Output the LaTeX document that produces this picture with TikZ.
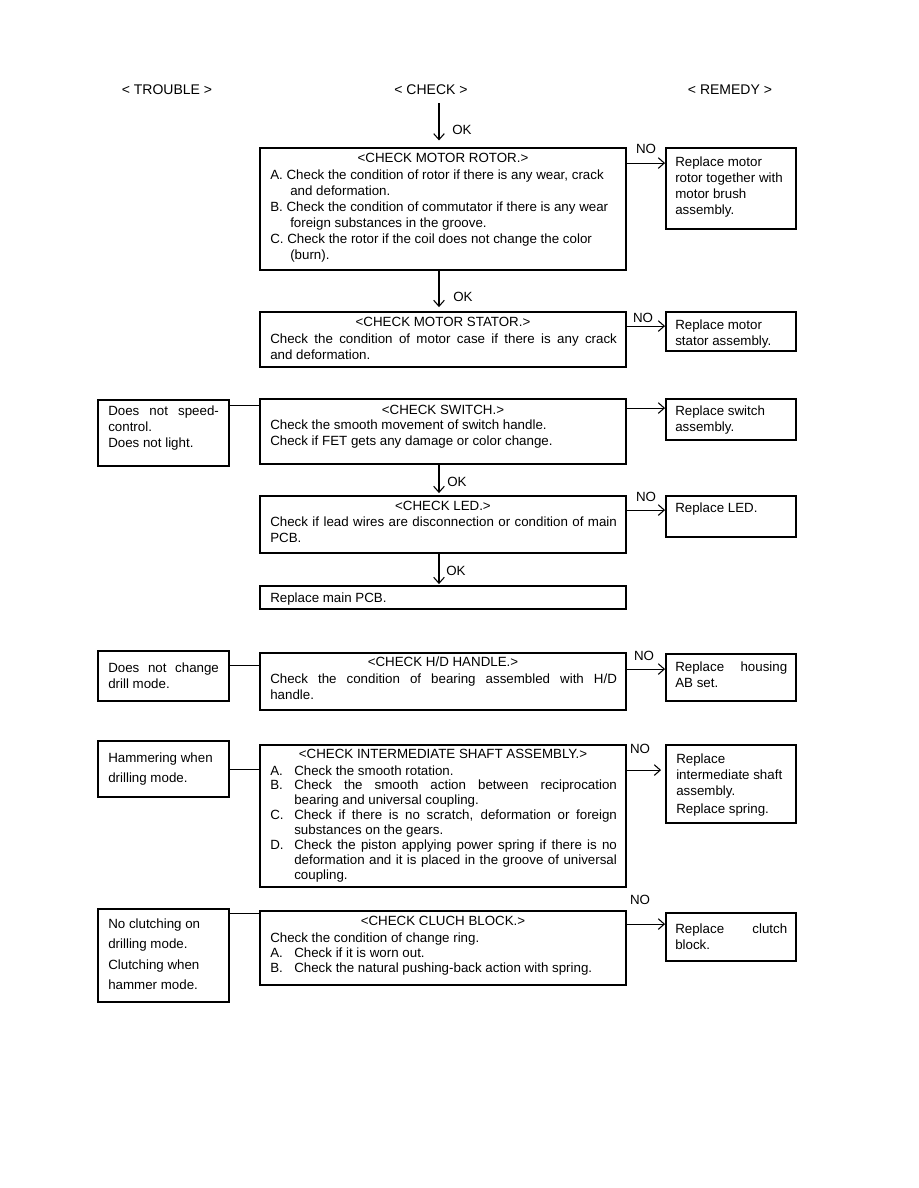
\documentclass[tikz,border=0pt]{standalone}
\usepackage{fontspec}
\setmainfont{Liberation Sans}
\usetikzlibrary{arrows.meta,fit}
\newcommand\jl[2]{\makebox[#1][s]{#2}}
\newcommand\tl[1]{\begin{tabular}[t]{@{}l@{}}#1\end{tabular}}
\begin{document}
\begin{tikzpicture}[x=0.75pt,y=-0.75pt,
  box/.style={draw, line width=1.4pt, inner sep=0pt},
  tbox/.style={draw, line width=1.7pt, inner sep=0pt},
  txt/.style={inner sep=0pt, anchor=base west, font=\fontsize{10}{12}\selectfont},
  ttl/.style={inner sep=0pt, anchor=base, font=\fontsize{10}{12}\selectfont},
  hdr/.style={inner sep=0pt, anchor=base, font=\fontsize{10.5}{12}\selectfont},
  lbl/.style={inner sep=0pt, font=\fontsize{10}{12}\selectfont},
  arr/.style={-{Straight Barb[length=4.5pt,width=8pt]}, line width=0.8pt},
  ln/.style={line width=0.8pt}]
\fill[white] (0,0) rectangle (918,1188);
\useasboundingbox (0,0) rectangle (918,1188);

% headers
\node[hdr] (h1) at (167,94) {< TROUBLE >};
\node[hdr] (h2) at (431,94) {< CHECK >};
\node[hdr] (h3) at (730,94) {< REMEDY >};

% ---------- motor rotor
\node[box, fit={(260,148) (626,270)}] (c1) {};
\node[ttl] (c1h) at (443,162) {<CHECK MOTOR ROTOR.>};
\node[txt] (c1t) at (270,179) {\tl{A. Check the condition of rotor if there is any wear, crack\\
\hspace*{15pt}and deformation.\\
B. Check the condition of commutator if there is any wear\\
\hspace*{15pt}foreign substances in the groove.\\
C. Check the rotor if the coil does not change the color\\
\hspace*{15pt}(burn).}};
\node[box, fit={(666,148) (796,229)}] (r1) {};
\node[txt] (r1t) at (675,166) {\tl{Replace motor\\rotor together with\\motor brush\\assembly.}};
\coordinate (top) at (439,103);
\draw[arr, shorten >=5pt] (top) -- (top |- c1.north);
\node[lbl, anchor=west] (ok1) at (452,130) {OK};
\draw[arr] ([yshift=-12pt]c1.north east) -- ([yshift=-12pt]c1.north east -| r1.west);
\node[lbl] (no1) at (646,149) {NO};

% ---------- motor stator
\node[box, fit={(260,312) (626,367)}] (c2) {};
\node[ttl] (c2h) at (443,326) {<CHECK MOTOR STATOR.>};
\node[txt] (c2t) at (270,343) {\tl{\jl{260pt}{Check the condition of motor case if there is any crack}\\and deformation.}};
\node[box, fit={(666,312) (796,351)}] (r2) {};
\node[txt] (r2t) at (675,329) {\tl{Replace motor\\stator assembly.}};
\draw[arr, shorten >=3pt] (top |- c1.south) -- (top |- c2.north);
\node[lbl, anchor=west] (ok2) at (453,297) {OK};
\draw[arr] ([yshift=-11.25pt]c2.north east) -- ([yshift=-11.25pt]c2.north east -| r2.west);
\node[lbl] (no2) at (643,318) {NO};

% ---------- switch
\node[tbox, fit={(98,400) (229,466)}] (t3) {};
\node[txt] (t3t) at (108,415) {\tl{\jl{83pt}{Does not speed-}\\control.\\Does not light.}};
\node[box, fit={(260,399) (626,464)}] (c3) {};
\node[ttl] (c3h) at (443,414) {<CHECK SWITCH.>};
\node[txt] (c3t) at (270,429) {\tl{Check the smooth movement of switch handle.\\Check if FET gets any damage or color change.}};
\node[box, fit={(666,399) (796,440)}] (r3) {};
\node[txt] (r3t) at (675,415) {\tl{Replace switch\\assembly.}};
\draw[ln] ([yshift=-5.25pt]t3.north east) -- ([yshift=-5.25pt]t3.north east -| c3.west);
\draw[arr] ([yshift=-7.5pt]c3.north east) -- ([yshift=-7.5pt]c3.north east -| r3.west);

% ---------- LED
\node[box, fit={(260,496) (626,553)}] (c4) {};
\node[ttl] (c4h) at (443,510) {<CHECK LED.>};
\node[txt] (c4t) at (270,526) {\tl{\jl{260pt}{Check if lead wires are disconnection or condition of main}\\PCB.}};
\node[box, fit={(666,496) (796,537)}] (r4) {};
\node[txt] (r4t) at (675,512) {Replace LED.};
\draw[arr, shorten >=1.5pt] (top |- c3.south) -- (top |- c4.north);
\node[lbl, anchor=west] (ok3) at (447,482) {OK};
\draw[arr] ([yshift=-11.25pt]c4.north east) -- ([yshift=-11.25pt]c4.north east -| r4.west);
\node[lbl] (no4) at (646,497) {NO};

\node[box, fit={(260,586) (626,609)}] (c5) {};
\node[txt] (c5t) at (270,602) {Replace main PCB.};
\draw[arr, shorten >=0.75pt] (top |- c4.south) -- (top |- c5.north);
\node[lbl, anchor=west] (ok4) at (446,571) {OK};

% ---------- H/D handle
\node[tbox, fit={(98,651) (229,701)}] (t6) {};
\node[txt] (t6t) at (108,672) {\tl{\jl{83pt}{Does not change}\\drill mode.}};
\node[box, fit={(260,653) (626,710)}] (c6) {};
\node[ttl] (c6h) at (443,666) {<CHECK H/D HANDLE.>};
\node[txt] (c6t) at (270,683) {\tl{\jl{260pt}{Check the condition of bearing assembled with H/D}\\handle.}};
\node[box, fit={(666,654) (796,701)}] (r6) {};
\node[txt] (r6t) at (675,671) {\tl{\jl{84pt}{Replace housing}\\AB set.}};
\draw[ln] ([yshift=-12pt]t6.north east) -- ([yshift=-12pt]t6.north east -| c6.west);
\draw[arr] ([yshift=-12.75pt]c6.north east) -- ([yshift=-12.75pt]c6.north east -| r6.west);
\node[lbl] (no6) at (644,656) {NO};

% ---------- intermediate shaft
\node[tbox, fit={(98,741) (229,797)}] (t7) {};
\node[txt, font=\fontsize{10}{15}\selectfont] (t7t) at (108,762) {\tl{Hammering when\\drilling mode.}};
\node[box, fit={(260,745) (626,887)}] (c7) {};
\node[ttl] (c7h) at (443,758) {<CHECK INTERMEDIATE SHAFT ASSEMBLY.>};
\node[txt, font=\fontsize{10}{11.2}\selectfont] (c7t) at (270,775) {\tl{\makebox[18pt][l]{A.}Check the smooth rotation.\\
\makebox[18pt][l]{B.}\jl{242pt}{Check the smooth action between reciprocation}\\
\hspace*{18pt}bearing and universal coupling.\\
\makebox[18pt][l]{C.}\jl{242pt}{Check if there is no scratch, deformation or foreign}\\
\hspace*{18pt}substances on the gears.\\
\makebox[18pt][l]{D.}\jl{242pt}{Check the piston applying power spring if there is no}\\
\hspace*{18pt}\jl{242pt}{deformation and it is placed in the groove of universal}\\
\hspace*{18pt}coupling.}};
\node[box, fit={(666,745) (796,823)}] (r7) {};
\node[txt] (r7t) at (676,763) {\tl{Replace\\intermediate shaft\\assembly.\\[2pt]Replace spring.}};
\draw[ln] ([yshift=-22.5pt]t7.north east) -- ([yshift=-22.5pt]t7.north east -| c7.west);
\draw[arr, shorten >=3pt] ([yshift=-19.5pt]c7.north east) -- ([yshift=-19.5pt]c7.north east -| r7.west);
\node[lbl] (no7) at (640,749) {NO};

% ---------- clutch block
\node[tbox, fit={(98,909) (229,1002)}] (t8) {};
\node[txt, font=\fontsize{10}{15.4}\selectfont] (t8t) at (108,928) {\tl{No clutching on\\drilling mode.\\Clutching when\\hammer mode.}};
\node[box, fit={(260,911) (626,985)}] (c8) {};
\node[ttl] (c8h) at (443,925) {<CHECK CLUCH BLOCK.>};
\node[txt, font=\fontsize{10}{11.6}\selectfont] (c8t) at (270,942) {\tl{Check the condition of change ring.\\
\makebox[18pt][l]{A.}Check if it is worn out.\\
\makebox[18pt][l]{B.}Check the natural pushing-back action with spring.}};
\node[box, fit={(666,913) (796,961)}] (r8) {};
\node[txt] (r8t) at (675,933) {\tl{\jl{84pt}{Replace clutch}\\block.}};
\draw[ln] ([yshift=-4.5pt]t8.north east) -- ([yshift=-4.5pt]t8.north east -| c8.west);
\draw[arr] ([yshift=-10.5pt]c8.north east) -- ([yshift=-10.5pt]c8.north east -| r8.west);
\node[lbl] (no8) at (640,900) {NO};
\end{tikzpicture}
\end{document}
